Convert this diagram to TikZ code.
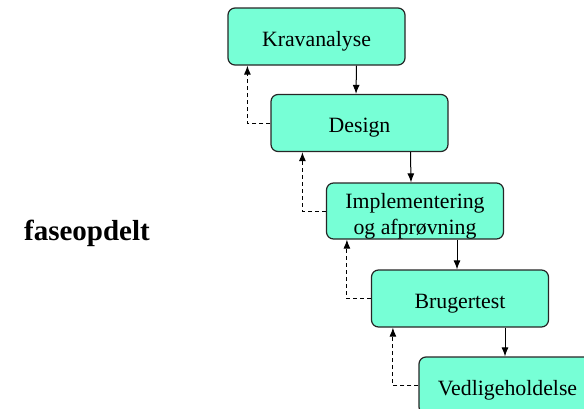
\documentclass[tikz,border=0pt]{standalone}
\usepackage{fontspec}
\setmainfont{Liberation Serif}
\usetikzlibrary{calc,arrows.meta}
\definecolor{fase}{RGB}{119,255,214}
\tikzset{
	fasebox/.style={draw=black!85, fill=fase, rounded corners=3.5pt, line width=0.6pt,
		minimum width=88.5pt, minimum height=28.5pt, inner sep=0pt, align=center,
		text height=12pt, font=\fontsize{10.9}{13}\selectfont},
	ned/.style={line width=0.5pt, -{Latex[length=4.5pt,width=3.5pt]}},
	tilbage/.style={line width=0.5pt, dash pattern=on 2pt off 1.5pt, -{Latex[length=4.5pt,width=3.5pt]}}
}

\begin{document}
\begin{tikzpicture}[x=0.5pt, y=-0.5pt]
			%%%%% START %%%%%
			
			\useasboundingbox (0, 0) rectangle (584, 408);
			
			\node[font=\fontsize{14.5}{16}\selectfont\bfseries] (fase) at (87, 233) {faseopdelt};
			
			\node[fasebox] (krav) at (316.5, 36.5) {Kravanalyse};
			\node[fasebox] (design) at (359.5, 123) {Design};
			\node[fasebox, minimum height=28pt, text height=25.5pt] (impl) at (415, 211) {Implementering\\og afprøvning};
			\node[fasebox] (bruger) at (460, 298.5) {Brugertest};
			\node[fasebox] (vedl) at (507.5, 385.5) {Vedligeholdelse};
			
			\draw[ned] ($(krav.south)+(40, 0)$) -- ($(design.north)+(-3.5, 0)$);
			\draw[ned] ($(design.south)+(51, 0)$) -- ($(impl.north)+(-4, 0)$);
			\draw[ned] ($(impl.south)+(42, 0)$) -- ($(bruger.north)+(-3, 0)$);
			\draw[ned] ($(bruger.south)+(45, 0)$) -- ($(vedl.north)+(-2.5, 0)$);
			
			\draw[tilbage] (design.west) -| ($(krav.south west)+(20, 0)$);
			\draw[tilbage] (impl.west) -| ($(design.south west)+(32, 0)$);
			\draw[tilbage] (bruger.west) -| ($(impl.south west)+(21, 0)$);
			\draw[tilbage] (vedl.west) -| ($(bruger.south west)+(22, 0)$);
			
			%%%%% END %%%%%
		\end{tikzpicture}
\end{document}
